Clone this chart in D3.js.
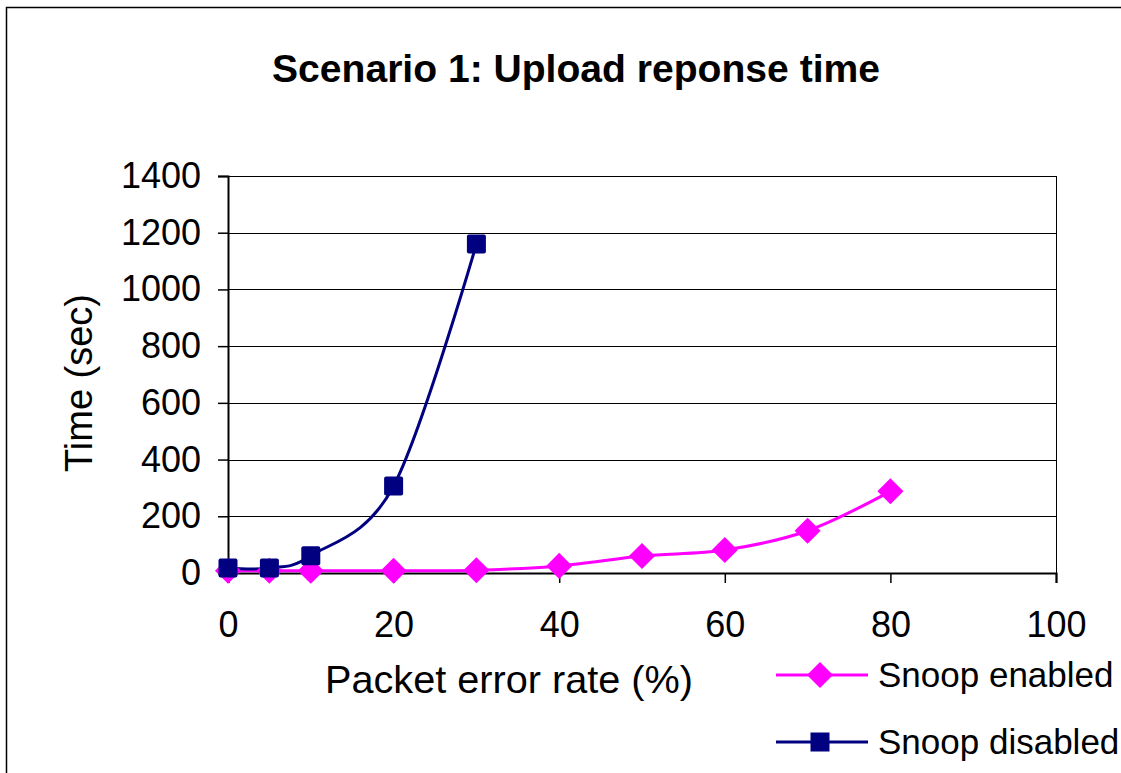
<!DOCTYPE html>
<html lang="en">
<head>
  <meta charset="utf-8">
  <script src="https://d3js.org/d3.v7.min.js"></script>
  <style>
    body { margin: 0; background: #fff; }
    text { font-family: "Liberation Sans", Arial, sans-serif; fill: #000; }
  </style>
</head>
<body>
<div id="chart"></div>
<script>

// data
var errorRates = [0, 5, 10, 20, 30, 40, 50, 60, 70, 80];
var snoopEnabled = [8, 8, 8, 8, 10, 25, 60, 81, 149, 288];
var disabledRates = [0, 5, 10, 20, 30];
var snoopDisabled = [18, 18, 61, 307, 1160];
var xTicks = [0, 20, 40, 60, 80, 100];
var yTicks = [0, 200, 400, 600, 800, 1000, 1200, 1400];

var W = 1121, H = 773;
var pLeft = 228, pRight = 1056, pTop = 176, pBottom = 573;

var svg = d3.select("#chart").append("svg")
  .attr("width", W)
  .attr("height", H);

// outer frame
svg.append("rect")
  .attr("x", 6.5).attr("y", 7.5)
  .attr("width", W + 10).attr("height", H + 10)
  .attr("fill", "none").attr("stroke", "#000").attr("stroke-width", 1.5);

svg.append("text")
  .attr("x", 576).attr("y", 82)
  .attr("text-anchor", "middle")
  .style("font-size", "38px").style("font-weight", "bold")
  .attr("textLength", 608).attr("lengthAdjust", "spacingAndGlyphs")
  .text("Scenario 1: Upload reponse time");

var x = d3.scaleLinear().domain([0, 100]).range([pLeft, pRight]);
var y = d3.scaleLinear().domain([0, 1400]).range([pBottom, pTop]);

// gridlines
svg.append("g")
  .selectAll("line")
  .data(yTicks.slice(1))
  .enter().append("line")
    .attr("x1", pLeft).attr("x2", pRight)
    .attr("y1", function(d) { return Math.round(y(d)) + 0.5 })
    .attr("y2", function(d) { return Math.round(y(d)) + 0.5 })
    .attr("stroke", "#000").attr("stroke-width", 1);

// right border of plot area
svg.append("line")
  .attr("x1", pRight + 0.5).attr("x2", pRight + 0.5)
  .attr("y1", pTop).attr("y2", pBottom)
  .attr("stroke", "#000");

// axes
var xAxis = svg.append("g")
  .attr("transform", "translate(0," + pBottom + ")")
  .call(d3.axisBottom(x).tickValues(xTicks).tickSize(10).tickPadding(28));
var yAxis = svg.append("g")
  .attr("transform", "translate(" + pLeft + ",0)")
  .call(d3.axisLeft(y).tickValues(yTicks).tickSize(10).tickPadding(17).tickFormat(d3.format("d")));

[xAxis, yAxis].forEach(function(a) {
  a.select(".domain").attr("stroke-width", 2);
  a.selectAll(".tick line").attr("stroke-width", 1.5);
  a.selectAll("text").style("font-size", "36px").attr("fill", "#000")
    .style("font-family", "'Liberation Sans', Arial, sans-serif");
});

svg.append("text")
  .attr("x", 509).attr("y", 693)
  .attr("text-anchor", "middle")
  .style("font-size", "39px")
  .attr("textLength", 368).attr("lengthAdjust", "spacingAndGlyphs")
  .text("Packet error rate (%)");

svg.append("text")
  .attr("transform", "translate(92," + 383 + ") rotate(-90)")
  .attr("text-anchor", "middle")
  .style("font-size", "38px")
  .text("Time (sec)");

var line = d3.line()
  .x(function(d) { return x(d[0]) })
  .y(function(d) { return y(d[1]) })
  .curve(d3.curveCardinal.tension(0));

var enabledPts = errorRates.map(function(r, i) { return [r, snoopEnabled[i]] });
var disabledPts = disabledRates.map(function(r, i) { return [r, snoopDisabled[i]] });

var pink = "#ff00ff", navy = "#000080";

svg.append("path")
  .attr("d", line(enabledPts))
  .attr("fill", "none").attr("stroke", pink).attr("stroke-width", 3);

svg.append("path")
  .attr("d", line(disabledPts))
  .attr("fill", "none").attr("stroke", navy).attr("stroke-width", 3);

var diamond = d3.symbol().type(d3.symbolSquare).size(340);

svg.selectAll(".dia")
  .data(enabledPts)
  .enter().append("path")
    .attr("class", "dia")
    .attr("d", diamond)
    .attr("transform", function(d) { return "translate(" + x(d[0]) + "," + y(d[1]) + ") rotate(45)" })
    .attr("fill", pink);

svg.selectAll(".sq")
  .data(disabledPts)
  .enter().append("rect")
    .attr("class", "sq")
    .attr("x", function(d) { return x(d[0]) - 9.5 })
    .attr("y", function(d) { return y(d[1]) - 9.5 })
    .attr("width", 19).attr("height", 19).attr("rx", 2)
    .attr("fill", navy);

// legend
var legend = [
  {name: "Snoop enabled", color: pink, shape: "diamond", y: 675},
  {name: "Snoop disabled", color: navy, shape: "square", y: 742}
];
var lg = svg.selectAll(".leg").data(legend).enter().append("g")
  .attr("class", "leg")
  .attr("transform", function(d) { return "translate(776," + d.y + ")" });
lg.append("line")
  .attr("x1", 0).attr("x2", 92)
  .attr("stroke", function(d) { return d.color }).attr("stroke-width", 3);
lg.append("path")
  .attr("d", function(d) {
    return d.shape == "diamond" ? diamond() : "M-9.5,-9.5h19v19h-19z";
  })
  .attr("transform", function(d) { return d.shape == "diamond" ? "translate(44,0) rotate(45)" : "translate(44,0)" })
  .attr("fill", function(d) { return d.color });
lg.append("text")
  .attr("x", 102).attr("y", 12)
  .style("font-size", "35px")
  .text(function(d) { return d.name });

</script>
</body>
</html>
